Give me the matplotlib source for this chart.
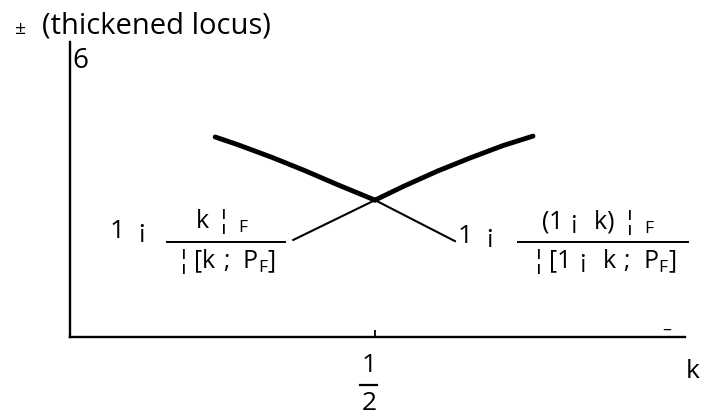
import matplotlib
matplotlib.use("Agg")
import matplotlib.pyplot as plt
from matplotlib.lines import Line2D

plt.rcParams['font.family'] = ['Open Sans', 'DejaVu Sans']
plt.rcParams['mathtext.default'] = 'regular'

# ---- data (k on x, value on y) ----
k_dec_thick = [0.238, 0.275, 0.331, 0.385, 0.439, 0.500]
y_dec_thick = [0.678, 0.652, 0.609, 0.564, 0.516, 0.464]
k_dec_thin = [0.500, 0.631]
y_dec_thin = [0.464, 0.325]
k_inc_thin = [0.366, 0.500]
y_inc_thin = [0.329, 0.464]
k_inc_thick = [0.500, 0.546, 0.602, 0.656, 0.710, 0.759]
y_inc_thick = [0.464, 0.510, 0.562, 0.607, 0.649, 0.681]
tick_k = [0.5]

W, H = 701, 416
fig = plt.figure(figsize=(W / 100, H / 100), dpi=100)
ax = fig.add_axes([70 / W, 79 / H, 615 / W, 295 / H])
ax.set_xlim(0, 615 / 610)
ax.set_ylim(0, 1)
for s in ('top', 'right'):
    ax.spines[s].set_visible(False)
for s in ('left', 'bottom'):
    ax.spines[s].set_linewidth(1.7)
ax.set_yticks([])
ax.set_xticks(tick_k)
ax.set_xticklabels([])
ax.tick_params(axis='x', direction='in', length=5, width=1.3)

for kk, yy in ((k_dec_thick, y_dec_thick), (k_inc_thick, y_inc_thick)):
    ax.plot(kk, yy, color='k', lw=3.5, solid_capstyle='round',
            solid_joinstyle='round')
ax.plot(k_dec_thin, y_dec_thin, color='k', lw=1.5)
ax.plot(k_inc_thin, y_inc_thin, color='k', lw=1.5)


def fp(px, py):
    return (px / W, 1 - py / H)


def txt(px, py, s, size, ha='left', va='baseline'):
    fig.text(*fp(px, py), s, fontsize=size, ha=ha, va=va)


def hbar(x0, x1, py, lw=1.4):
    (a, b), (c, _) = fp(x0, py), fp(x1, py)
    fig.add_artist(Line2D([a, c], [b, b], transform=fig.transFigure,
                          color='k', lw=lw))


# title and axis symbols
txt(21, 29, '±', 14, ha='center', va='center')
txt(42, 33, '(thickened locus)', 21)
txt(72, 68, '6', 20)
txt(667, 330, '–', 13, ha='center', va='center')
txt(686, 378, 'k', 19)

# tick label 1/2
txt(369, 372, '1', 19, ha='center')
hbar(360, 377, 385, lw=1.6)
txt(369, 410, '2', 19, ha='center')

# left label
txt(110, 238, '1  ¡', 19)
txt(222, 228, r'$k\ ¦\ {}_F$', 18, ha='center')
hbar(167, 285, 242)
txt(226, 268, r'$¦\,[k\ ;\ P_F]$', 18, ha='center')

# right label
txt(458, 243, '1  ¡', 19)
txt(598, 229, r'$(1\ ¡\ \ k)\ ¦\ {}_F$', 18, ha='center')
hbar(518, 688, 242)
txt(604, 268, r'$¦\,[1\ ¡\ \ k\ ;\ P_F]$', 18, ha='center')

fig.savefig('out.png', dpi=100)
